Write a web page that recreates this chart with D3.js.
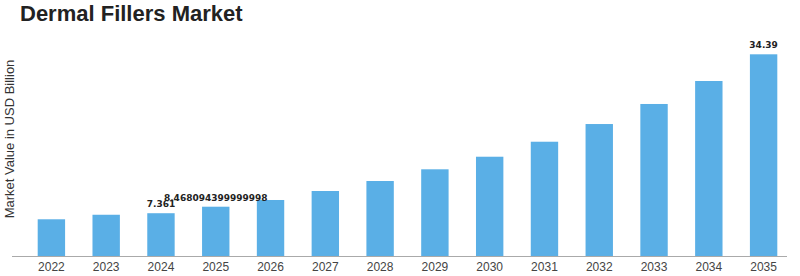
<!DOCTYPE html>
<html>
<head>
<meta charset="utf-8">
<script src="https://cdn.jsdelivr.net/npm/d3@7"></script>
<style>
  body { margin: 0; background: #fff; }
  svg { display: block; }
</style>
</head>
<body>
<div id="chart"></div>
<script>
const w = 800;
const h = 276;

const years = ["2022", "2023", "2024", "2025", "2026", "2027", "2028",
               "2029", "2030", "2031", "2032", "2033", "2034", "2035"];
const values = [6.33, 7.1, 7.361, 8.468094399999998, 9.61, 11.14, 12.84,
                14.83, 16.97, 19.52, 22.53, 25.94, 29.85, 34.39];
// only these bars carry a value label in the picture
const labelled = ["2024", "2025", "2035"];

const barColor = "#5aafe6";

const svg = d3.select("#chart").append("svg").attr("width", w).attr("height", h);

const baseY = 256.5;
const x = d3.scaleBand()
            .domain(years)
            .range([24, 791])
            .paddingInner(0.5)
            .paddingOuter(0.25);
const y = d3.scaleLinear()
            .domain([0, 34.39])
            .range([baseY, 54.3]);

// title
svg.append("text")
    .attr("x", 20)
    .attr("y", 21)
    .style("font-family", "'Liberation Sans', Arial, sans-serif")
    .style("font-weight", "bold")
    .style("font-size", "22px")
    .style("fill", "#222")
    .text("Dermal Fillers Market");

// y title
svg.append("text")
    .attr("transform", "translate(14, 139) rotate(-90)")
    .attr("text-anchor", "middle")
    .style("font-family", "'Liberation Sans', Arial, sans-serif")
    .style("font-size", "13px")
    .style("fill", "#333")
    .text("Market Value in USD Billion");

svg.selectAll("rect.bar")
    .data(years)
    .enter()
    .append("rect")
    .attr("class", "bar")
    .attr("x", d => x(d))
    .attr("width", x.bandwidth())
    .attr("y", (d, i) => y(values[i]))
    .attr("height", (d, i) => baseY - y(values[i]))
    .style("fill", barColor);

// x axis
const xAxis = d3.axisBottom(x).tickSize(0).tickPadding(6);
const gx = svg.append("g")
    .attr("transform", "translate(0," + baseY + ")")
    .call(xAxis);
gx.select(".domain").remove();
gx.append("line")
    .attr("x1", 12).attr("x2", 787)
    .attr("y1", 0).attr("y2", 0)
    .style("stroke", "#aaa")
    .style("stroke-width", 1);
gx.selectAll("text")
    .style("font-family", "'Liberation Sans', Arial, sans-serif")
    .style("font-size", "12px")
    .style("fill", "#444");

// value labels
svg.selectAll("text.value")
    .data(years.filter(d => labelled.includes(d)))
    .enter()
    .append("text")
    .attr("class", "value")
    .attr("x", d => x(d) + x.bandwidth() / 2)
    .attr("y", d => y(values[years.indexOf(d)]) - 6)
    .attr("text-anchor", "middle")
    .style("font-family", "'DejaVu Sans', sans-serif")
    .style("font-weight", "bold")
    .style("font-size", "9px")
    .style("fill", "#222")
    .text(d => String(values[years.indexOf(d)]));
</script>
</body>
</html>
